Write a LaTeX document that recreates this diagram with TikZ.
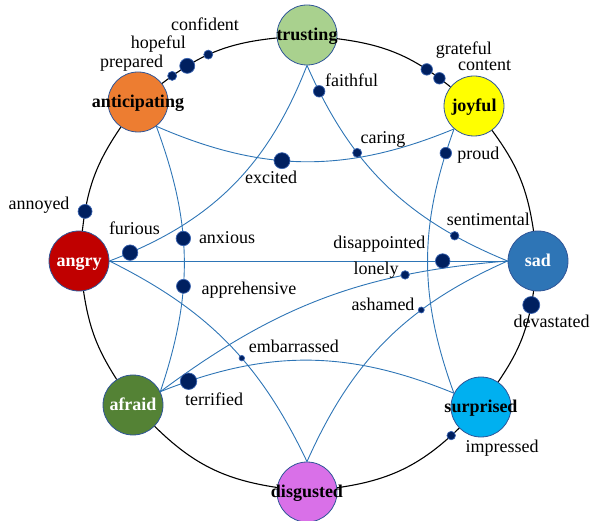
\documentclass[tikz,border=0pt]{standalone}
\usepackage{fontspec}
\setmainfont{Liberation Serif}
\definecolor{ringedge}{HTML}{2F5597}
\definecolor{linkblue}{HTML}{2E75B6}
\definecolor{dotnavy}{HTML}{002060}
\definecolor{dotedge}{HTML}{3A63B0}
\definecolor{trustcol}{HTML}{A9D18E}
\definecolor{joycol}{HTML}{FFFF00}
\definecolor{sadcol}{HTML}{2E75B6}
\definecolor{surprisecol}{HTML}{00B0F0}
\definecolor{disgustcol}{HTML}{D970E8}
\definecolor{fearcol}{HTML}{548235}
\definecolor{angercol}{HTML}{C00000}
\definecolor{anticcol}{HTML}{ED7D31}
\tikzset{
  emotion/.style={circle, draw=ringedge, line width=0.8pt, minimum size=60pt, inner sep=0pt,
    font=\fontsize{18}{21}\selectfont\bfseries, text height=11pt, text depth=0pt},
  link/.style={linkblue, line width=0.9pt},
  ring/.style={black, line width=1.1pt},
  feeling/.style={circle, fill=dotnavy, draw=dotedge, line width=0.7pt, inner sep=0pt, minimum size=#1},
  word/.style={anchor=base, inner sep=0pt, font=\fontsize{18}{21}\selectfont},
}
\begin{document}
\begin{tikzpicture}[x=1pt, y=1pt]
    \useasboundingbox (0,0) rectangle (592,520);

    % the eight emotions
    \node[emotion, fill=trustcol] (trusting) at (307,485) {\makebox[0pt]{trusting}};
    \node[emotion, fill=joycol] (joyful) at (474,414) {\makebox[0pt]{joyful}};
    \node[emotion, fill=sadcol, text=white] (sad) at (538,259) {\makebox[0pt]{sad}};
    \node[emotion, fill=surprisecol] (surprised) at (481,113) {\makebox[0pt]{surprised}};
    \node[emotion, fill=disgustcol] (disgusted) at (307,28) {\makebox[0pt]{disgusted}};
    \node[emotion, fill=fearcol, text=white] (afraid) at (133,115) {\makebox[0pt]{afraid}};
    \node[emotion, fill=angercol, text=white] (angry) at (79,259) {\makebox[0pt]{angry}};
    \node[emotion, fill=anticcol] (anticipating) at (138,418) {\makebox[0pt]{anticipating}};

    % outer ring
    \draw[ring] (anticipating) to[bend left=16]
        node[feeling=9, pos=.09] (prepared) {}
        node[feeling=15, pos=.23] (hopeful) {}
        node[feeling=9, pos=.43] (confident) {} (trusting);
    \draw[ring] (trusting) to[bend left=16]
        node[feeling=11.5, pos=.78] (grateful) {}
        node[feeling=11.5, pos=.9] (content) {} (joyful);
    \draw[ring] (joyful) to[bend left=14] (sad);
    \draw[ring] (sad) to[bend left=13] node[feeling=17, pos=.13] (devastated) {} (surprised);
    \draw[ring] (surprised) to[bend left=18] node[feeling=8.5, pos=.07] (impressed) {} (disgusted);
    \draw[ring] (disgusted) to[bend left=18] (afraid);
    \draw[ring] (afraid) to[bend left=12] (angry);
    \draw[ring] (angry) to[bend left=14] node[feeling=14, pos=.16] (annoyed) {} (anticipating);

    % inner links
    \draw[link] (joyful.229) to[bend left=23] node[feeling=16, pos=.58] (excited) {} (anticipating.307);
    \draw[link] (afraid.26) to[bend left=16] node[feeling=8.5, pos=.74] (lonely) {} (sad.west);
    \draw[link] (angry.east) -- node[feeling=14.5, pos=.837] (disappointed) {} (sad.west);
    \draw[link] (trusting.south) to[bend right=22]
        node[feeling=11.5, pos=.09] (faithful) {}
        node[feeling=9, pos=.34] (caring) {}
        node[feeling=8.5, pos=.81] (sentimental) {} (sad.west);
    \draw[link] (trusting.south) to[bend left=24] node[feeling=15.5, pos=.93] (furious) {} (angry.east);
    \draw[link] (joyful.229) to[bend right=20] node[feeling=11.5, pos=.085] (proud) {} (surprised.153);
    \draw[link] (sad.west) to[bend right=21] node[feeling=6, pos=.33] (ashamed) {} (disgusted.north);
    \draw[link] (afraid.26) to[bend left=22] node[feeling=16.5, pos=.09] (terrified) {} (surprised.153);
    \draw[link] (anticipating.307) to[bend left=19.5]
        node[feeling=14.5, pos=.42] (anxious) {}
        node[feeling=14, pos=.61] (apprehensive) {} (afraid.26);
    \draw[link] (angry.east) to[bend left=19] node[feeling=5.5, pos=.58] (embarrassed) {} (disgusted.north);

    % words
    \node[word] (w-confident) at (205,489) {confident};
    \node[word] (w-hopeful) at (158.3,471.7) {hopeful};
    \node[word] (w-prepared) at (131.7,452.3) {prepared};
    \node[word] (w-faithful) at (351.7,433.3) {faithful};
    \node[word] (w-grateful) at (463.8,465) {grateful};
    \node[word] (w-content) at (484.7,449.3) {content};
    \node[word] (w-caring) at (383,376) {caring};
    \node[word] (w-proud) at (478.3,360) {proud};
    \node[word] (w-excited) at (271,336.7) {excited};
    \node[word] (w-annoyed) at (39,310.7) {annoyed};
    \node[word] (w-furious) at (134.5,285.7) {furious};
    \node[word] (w-anxious) at (227,276) {anxious};
    \node[word] (w-apprehensive) at (249,225) {apprehensive};
    \node[word] (w-sentimental) at (488.3,294.3) {sentimental};
    \node[word] (w-disappointed) at (379.3,271) {disappointed};
    \node[word] (w-lonely) at (376.2,245.7) {lonely};
    \node[word] (w-ashamed) at (383,209.3) {ashamed};
    \node[word] (w-devastated) at (551.7,192.3) {devastated};
    \node[word] (w-embarrassed) at (293.8,167.7) {embarrassed};
    \node[word] (w-terrified) at (214.2,114.3) {terrified};
    \node[word] (w-impressed) at (502.2,67.3) {impressed};
\end{tikzpicture}
\end{document}
